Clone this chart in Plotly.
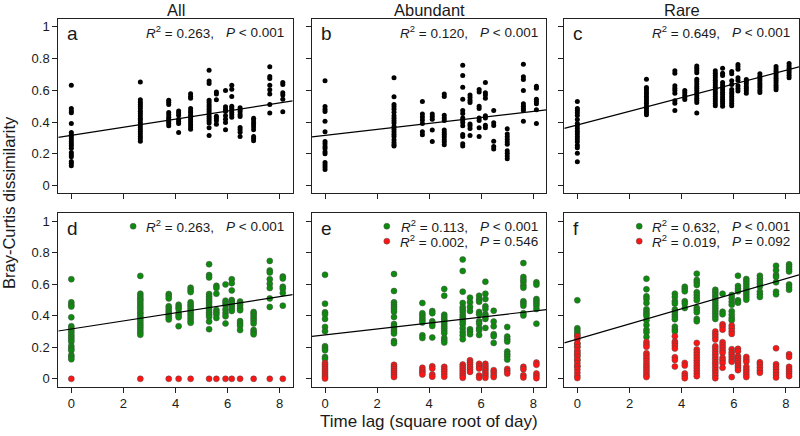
import plotly.graph_objects as go

# ---------------- data ----------------
lags = [0.0, 2.65, 3.74, 4.12, 4.58, 5.29, 5.57, 5.92, 6.16, 6.48, 7.0, 7.62, 8.12]

col_titles = ["All", "Abundant", "Rare"]
panel_letters = ["a", "b", "c", "d", "e", "f"]

# panel a (All) – also the green series of panel d
all_vals = [
    [0.632, 0.485, 0.47, 0.458, 0.39, 0.334, 0.32, 0.307, 0.292, 0.277, 0.263, 0.25, 0.235, 0.208, 0.193, 0.18, 0.15, 0.139, 0.124],
    [0.653, 0.54, 0.525, 0.51, 0.498, 0.483, 0.468, 0.454, 0.44, 0.424, 0.412, 0.397, 0.382, 0.368, 0.353, 0.338, 0.324, 0.309, 0.294, 0.279],
    [0.538, 0.525, 0.51, 0.46, 0.445, 0.43, 0.418, 0.403, 0.39, 0.376],
    [0.47, 0.456, 0.443, 0.418, 0.403, 0.39, 0.334],
    [0.578, 0.563, 0.55, 0.485, 0.47, 0.458, 0.443, 0.429, 0.414, 0.40, 0.384, 0.368, 0.355],
    [0.727, 0.658, 0.643, 0.538, 0.523, 0.508, 0.494, 0.481, 0.466, 0.452, 0.437, 0.422, 0.408, 0.393, 0.363, 0.315],
    [0.59, 0.576, 0.54, 0.437, 0.422, 0.408, 0.386],
    [0.599, 0.496, 0.481, 0.466, 0.44, 0.418, 0.397, 0.351],
    [0.632, 0.607, 0.561, 0.5, 0.489, 0.477, 0.46, 0.445, 0.43],
    [0.49, 0.477, 0.464, 0.447, 0.435, 0.366, 0.351, 0.336, 0.309],
    [0.424, 0.412, 0.397, 0.382, 0.368, 0.351, 0.309, 0.296, 0.282],
    [0.748, 0.687, 0.674, 0.632, 0.603, 0.576, 0.51, 0.456],
    [0.649, 0.636, 0.584, 0.571, 0.544, 0.464],
]

# panel b (Abundant)
abund_vals = [
    [0.66, 0.498, 0.481, 0.466, 0.405, 0.338, 0.277, 0.263, 0.246, 0.233, 0.212, 0.2, 0.145, 0.13, 0.116, 0.1],
    [0.679, 0.559, 0.51, 0.496, 0.481, 0.462, 0.44, 0.424, 0.408, 0.393, 0.372, 0.355, 0.338, 0.322, 0.309, 0.288, 0.27, 0.256, 0.248],
    [0.529, 0.45, 0.431, 0.412, 0.39, 0.338, 0.32],
    [0.45, 0.435, 0.418, 0.349, 0.277],
    [0.576, 0.561, 0.443, 0.426, 0.41, 0.349, 0.334, 0.32, 0.305, 0.288, 0.273, 0.256],
    [0.758, 0.693, 0.62, 0.544, 0.473, 0.454, 0.426, 0.412, 0.397, 0.376, 0.321, 0.309, 0.263, 0.248],
    [0.571, 0.555, 0.538, 0.523, 0.387, 0.376, 0.359, 0.315],
    [0.605, 0.59, 0.5, 0.485, 0.426, 0.41, 0.363, 0.309],
    [0.649, 0.584, 0.571, 0.55, 0.44, 0.426, 0.38, 0.363],
    [0.473, 0.395, 0.378, 0.279, 0.246, 0.229],
    [0.357, 0.324, 0.307, 0.29, 0.273, 0.26, 0.218, 0.202, 0.185, 0.168],
    [0.765, 0.685, 0.668, 0.599, 0.515, 0.5, 0.485, 0.473, 0.405],
    [0.626, 0.613, 0.544, 0.529, 0.515, 0.477, 0.39],
]

# panel c (Rare)
rare_vals = [
    [0.529, 0.485, 0.473, 0.458, 0.441, 0.416, 0.39, 0.376, 0.359, 0.342, 0.326, 0.309, 0.292, 0.275, 0.254, 0.237, 0.202, 0.149],
    [0.67, 0.618, 0.605, 0.59, 0.576, 0.561, 0.546, 0.532, 0.517, 0.5, 0.485, 0.47, 0.458, 0.445],
    [0.723, 0.708, 0.628, 0.613, 0.599, 0.582, 0.534, 0.519, 0.473],
    [0.599, 0.584, 0.569, 0.555, 0.542],
    [0.754, 0.739, 0.725, 0.71, 0.67, 0.655, 0.639, 0.624, 0.611, 0.597, 0.582, 0.565, 0.55, 0.538, 0.523, 0.456],
    [0.723, 0.708, 0.693, 0.679, 0.664, 0.649, 0.634, 0.62, 0.605, 0.59, 0.576, 0.561, 0.546, 0.532, 0.517, 0.502],
    [0.739, 0.708, 0.693, 0.649, 0.634, 0.618, 0.603, 0.588, 0.573, 0.557, 0.544, 0.529, 0.515, 0.5],
    [0.718, 0.704, 0.66, 0.637, 0.605, 0.59, 0.576, 0.561, 0.546, 0.532, 0.517, 0.502],
    [0.763, 0.748, 0.733, 0.679, 0.664, 0.628, 0.611, 0.595],
    [0.668, 0.655, 0.641, 0.624, 0.611, 0.597, 0.582],
    [0.704, 0.689, 0.674, 0.66, 0.645, 0.63, 0.616, 0.601, 0.586],
    [0.75, 0.735, 0.72, 0.706, 0.691, 0.676, 0.662, 0.647, 0.632, 0.618, 0.603],
    [0.769, 0.754, 0.739, 0.725, 0.71, 0.695, 0.68],
]

# panel d red series
all_red_vals = [[0.0] for _ in range(13)]

# panel e
abund_green_vals = [
    [0.66, 0.477, 0.422, 0.409, 0.38, 0.329, 0.302, 0.207, 0.194, 0.181, 0.139, 0.127],
    [0.665, 0.557, 0.485, 0.47, 0.456, 0.443, 0.426, 0.392, 0.348, 0.333, 0.316, 0.302, 0.287, 0.24, 0.226],
    [0.481, 0.416, 0.401, 0.386, 0.371, 0.357, 0.276, 0.259],
    [0.43, 0.416, 0.365, 0.35, 0.335, 0.262],
    [0.57, 0.527, 0.407, 0.392, 0.378, 0.363, 0.348, 0.333, 0.319, 0.304, 0.289, 0.259, 0.245, 0.23],
    [0.757, 0.684, 0.553, 0.481, 0.454, 0.439, 0.424, 0.405, 0.39, 0.376, 0.361, 0.346, 0.321, 0.297, 0.276, 0.251],
    [0.515, 0.485, 0.456, 0.43, 0.314, 0.3, 0.283],
    [0.527, 0.504, 0.489, 0.424, 0.409, 0.365, 0.35, 0.321, 0.308, 0.278],
    [0.616, 0.54, 0.506, 0.46, 0.443, 0.409, 0.395, 0.38, 0.323],
    [0.432, 0.363, 0.333, 0.283, 0.27, 0.228],
    [0.329, 0.268, 0.251, 0.236, 0.173, 0.156, 0.141, 0.122],
    [0.734, 0.646, 0.629, 0.614, 0.593, 0.578, 0.492, 0.479, 0.464, 0.416, 0.401],
    [0.612, 0.597, 0.506, 0.494, 0.479, 0.464, 0.443, 0.35],
]
abund_red_vals = [
    [0.101, 0.089, 0.076, 0.063, 0.051, 0.038, 0.025, 0.013, 0.002],
    [0.089, 0.076, 0.063, 0.051, 0.038, 0.025, 0.011],
    [0.07, 0.055, 0.042, 0.027],
    [0.08, 0.065, 0.027, 0.013],
    [0.076, 0.061, 0.046, 0.03, 0.013],
    [0.091, 0.078, 0.065, 0.051, 0.036, 0.021, 0.006],
    [0.118, 0.103, 0.089, 0.074, 0.059, 0.044],
    [0.095, 0.08, 0.065, 0.021, 0.006],
    [0.095, 0.08, 0.065, 0.051, 0.036, 0.021, 0.006],
    [0.055, 0.04, 0.025, 0.011],
    [0.063, 0.049, 0.034],
    [0.076, 0.061, 0.023, 0.008],
    [0.103, 0.089, 0.034, 0.019, 0.004],
]

# panel f
rare_green_vals = [
    [0.498, 0.321, 0.306, 0.291, 0.278, 0.222, 0.205, 0.17, 0.15, 0.12, 0.08],
    [0.635, 0.568, 0.523, 0.506, 0.481, 0.441, 0.426, 0.411, 0.399, 0.371, 0.342, 0.312, 0.295, 0.266],
    [0.54, 0.519, 0.492, 0.477, 0.439, 0.424, 0.407, 0.392, 0.378, 0.331, 0.314, 0.3],
    [0.584, 0.57, 0.555, 0.492, 0.477, 0.449],
    [0.667, 0.627, 0.612, 0.595, 0.549, 0.532, 0.515, 0.498, 0.451, 0.437, 0.422, 0.38, 0.365],
    [0.565, 0.549, 0.532, 0.515, 0.498, 0.481, 0.464, 0.447, 0.43, 0.414, 0.397, 0.38],
    [0.54, 0.426, 0.409],
    [0.532, 0.511, 0.489, 0.47, 0.428, 0.407, 0.386, 0.371],
    [0.654, 0.589, 0.572, 0.555, 0.498, 0.483],
    [0.633, 0.618, 0.601, 0.584, 0.567, 0.553, 0.536, 0.519, 0.502],
    [0.654, 0.637, 0.62, 0.603, 0.586, 0.553, 0.536, 0.519],
    [0.717, 0.688, 0.658, 0.646, 0.612, 0.553, 0.536],
    [0.726, 0.711, 0.696, 0.681, 0.599, 0.582, 0.565],
]
rare_red_vals = [
    [0.27, 0.25, 0.225, 0.2, 0.18, 0.16, 0.14, 0.12, 0.10, 0.08, 0.06, 0.04, 0.02, 0.005],
    [0.234, 0.217, 0.203, 0.162, 0.148, 0.131, 0.114, 0.097, 0.082, 0.068, 0.053, 0.038, 0.023, 0.011],
    [0.27, 0.236, 0.224, 0.209, 0.192, 0.137, 0.12, 0.078],
    [0.101, 0.084, 0.034, 0.019, 0.004],
    [0.228, 0.186, 0.169, 0.152, 0.135, 0.118, 0.101, 0.084, 0.068, 0.051, 0.034, 0.017],
    [0.3, 0.283, 0.266, 0.249, 0.207, 0.19, 0.173, 0.156, 0.139, 0.122, 0.105, 0.089, 0.072, 0.055, 0.038, 0.021, 0.004],
    [0.346, 0.331, 0.312, 0.232, 0.215, 0.198, 0.181, 0.165, 0.133, 0.118, 0.101, 0.07],
    [0.338, 0.321, 0.302, 0.285, 0.188, 0.169, 0.154, 0.139, 0.122, 0.108, 0.011],
    [0.19, 0.175, 0.143, 0.129, 0.114, 0.099, 0.084, 0.07, 0.055],
    [0.139, 0.122, 0.108, 0.076, 0.059, 0.044, 0.027, 0.011],
    [0.105, 0.089, 0.072, 0.055, 0.038],
    [0.194, 0.093, 0.076, 0.059, 0.042, 0.025, 0.008],
    [0.156, 0.139, 0.076, 0.061, 0.046, 0.032, 0.017],
]

# regression fits (intercept, slope)
fit_intercepts = [0.316, 0.315, 0.381, 0.316, 0.279, 0.252]
fit_slopes = [0.0256, 0.019, 0.0432, 0.0256, 0.0188, 0.048]

stats_top = [
    ["<i>R</i><sup>2</sup> = 0.263,", "<i>P</i> < 0.001"],
    ["<i>R</i><sup>2</sup> = 0.120,", "<i>P</i> < 0.001"],
    ["<i>R</i><sup>2</sup> = 0.649,", "<i>P</i> < 0.001"],
]
stats_green = [
    ["<i>R</i><sup>2</sup> = 0.263,", "<i>P</i> < 0.001"],
    ["<i>R</i><sup>2</sup> = 0.113,", "<i>P</i> < 0.001"],
    ["<i>R</i><sup>2</sup> = 0.632,", "<i>P</i> < 0.001"],
]
stats_red = [
    None,
    ["<i>R</i><sup>2</sup> = 0.002,", "<i>P</i> = 0.546"],
    ["<i>R</i><sup>2</sup> = 0.019,", "<i>P</i> = 0.092"],
]

x_ticks = [0, 2, 4, 6, 8]
y_ticks = [0, 0.2, 0.4, 0.6, 0.8, 1]
x_range = [-0.5, 8.5]
y_range = [-0.05, 1.05]

# ---------------- styling ----------------
W, H = 800, 436
FONT = "Arial, 'Liberation Sans', Helvetica, sans-serif"
TXT = "#1a1a1a"
GREEN = "#0c8c0c"
RED = "#ff1414"
OUT = "#4a4a4a"

x_domains = [[58.3 / W, 292.7 / W], [312.0 / W, 546.3 / W], [564.3 / W, 799.0 / W]]
y_domains = [[(H - 193.3) / H, (H - 19.0) / H], [(H - 386.7) / H, (H - 213.3) / H]]
PW = 234.4
PH = 174.3


def flatten(vals):
    xs, ys = [], []
    for lag, col in zip(lags, vals):
        for v in col:
            xs.append(lag)
            ys.append(v)
    return xs, ys


fig = go.Figure()

panels = [
    [(all_vals, "black")],
    [(abund_vals, "black")],
    [(rare_vals, "black")],
    [(all_vals, GREEN), (all_red_vals, RED)],
    [(abund_green_vals, GREEN), (abund_red_vals, RED)],
    [(rare_green_vals, GREEN), (rare_red_vals, RED)],
]

for i, series in enumerate(panels):
    n = i + 1
    xa = "x" if n == 1 else f"x{n}"
    ya = "y" if n == 1 else f"y{n}"
    for vals, color in series:
        xs, ys = flatten(vals)
        if color == "black":
            marker = dict(size=5, color="black", line=dict(width=0))
        else:
            marker = dict(size=6, color=color, line=dict(width=0.5, color=OUT))
        fig.add_trace(go.Scatter(x=xs, y=ys, mode="markers", marker=marker,
                                 xaxis=xa, yaxis=ya, showlegend=False, hoverinfo="skip"))
    # fitted line
    lx = x_range
    ly = [fit_intercepts[i] + fit_slopes[i] * v for v in lx]
    fig.add_trace(go.Scatter(x=lx, y=ly, mode="lines", line=dict(color="black", width=1.2),
                             xaxis=xa, yaxis=ya, showlegend=False, hoverinfo="skip"))

layout_axes = {}
for i in range(6):
    n = i + 1
    r, c = divmod(i, 3)
    xkey = "xaxis" if n == 1 else f"xaxis{n}"
    ykey = "yaxis" if n == 1 else f"yaxis{n}"
    ya = "y" if n == 1 else f"y{n}"
    xa = "x" if n == 1 else f"x{n}"
    common = dict(showline=True, mirror=True, linecolor="#222", linewidth=1,
                  ticks="outside", ticklen=5, tickwidth=1, tickcolor="#222",
                  showgrid=False, zeroline=False, automargin=False,
                  tickfont=dict(family=FONT, size=13, color=TXT))
    layout_axes[xkey] = dict(common, domain=x_domains[c], anchor=ya, range=x_range,
                             tickvals=x_ticks, showticklabels=(r == 1))
    layout_axes[ykey] = dict(common, domain=y_domains[r], anchor=xa, range=y_range,
                             tickvals=y_ticks, showticklabels=(c == 0))

fig.update_layout(**layout_axes)

annotations = []
shapes = []
for i in range(6):
    n = i + 1
    r, c = divmod(i, 3)
    xr = ("x" if n == 1 else f"x{n}") + " domain"
    yr = ("y" if n == 1 else f"y{n}") + " domain"
    # panel letter
    annotations.append(dict(text=panel_letters[i], xref=xr, yref=yr, x=0.028, y=0.915,
                            xanchor="left", yanchor="middle", showarrow=False,
                            font=dict(family=FONT, size=19, color=TXT)))
    lines = []
    if r == 0:
        lines.append((stats_top[c], None))
    else:
        lines.append((stats_green[c], GREEN))
        if stats_red[c] is not None:
            lines.append((stats_red[c], RED))
    for k, (st, dot) in enumerate(lines):
        yc = 1 - (13 + 15 * k) / PH
        annotations.append(dict(text=st[1], xref=xr, yref=yr, x=0.972, y=yc,
                                xanchor="right", yanchor="middle", showarrow=False,
                                font=dict(family=FONT, size=13.5, color=TXT)))
        annotations.append(dict(text=st[0], xref=xr, yref=yr, x=0.972 - 70 / PW, y=yc,
                                xanchor="right", yanchor="middle", showarrow=False,
                                font=dict(family=FONT, size=13.5, color=TXT)))
        if dot is not None:
            cx = 0.972 - 70 / PW - 83 / PW
            rx, ry = 3 / PW, 3 / PH
            shapes.append(dict(type="circle", xref=xr, yref=yr, x0=cx - rx, x1=cx + rx,
                               y0=yc - ry, y1=yc + ry, fillcolor=dot,
                               line=dict(color=OUT, width=0.5)))

# column titles
for c in range(3):
    annotations.append(dict(text=col_titles[c], xref="paper", yref="paper",
                            x=sum(x_domains[c]) / 2, y=(H - 10) / H, xanchor="center",
                            yanchor="middle", showarrow=False,
                            font=dict(family=FONT, size=16.5, color=TXT)))

# axis titles
annotations.append(dict(text="Time lag (square root of day)", xref="paper", yref="paper",
                        x=sum(x_domains[1]) / 2, y=(H - 421) / H, xanchor="center",
                        yanchor="middle", showarrow=False,
                        font=dict(family=FONT, size=17, color=TXT)))
annotations.append(dict(text="Bray-Curtis dissimilarity", xref="paper", yref="paper",
                        x=9 / W, y=(H - 203) / H, xanchor="center", yanchor="middle",
                        textangle=-90, showarrow=False,
                        font=dict(family=FONT, size=16.5, color=TXT)))

fig.update_layout(width=W, height=H, margin=dict(l=0, r=0, t=0, b=0),
                  paper_bgcolor="white", plot_bgcolor="white",
                  annotations=annotations, shapes=shapes, showlegend=False)

fig.write_html("out.html", config={"displayModeBar": False},
               post_script="document.body.style.margin='0';document.body.style.padding='0';")
